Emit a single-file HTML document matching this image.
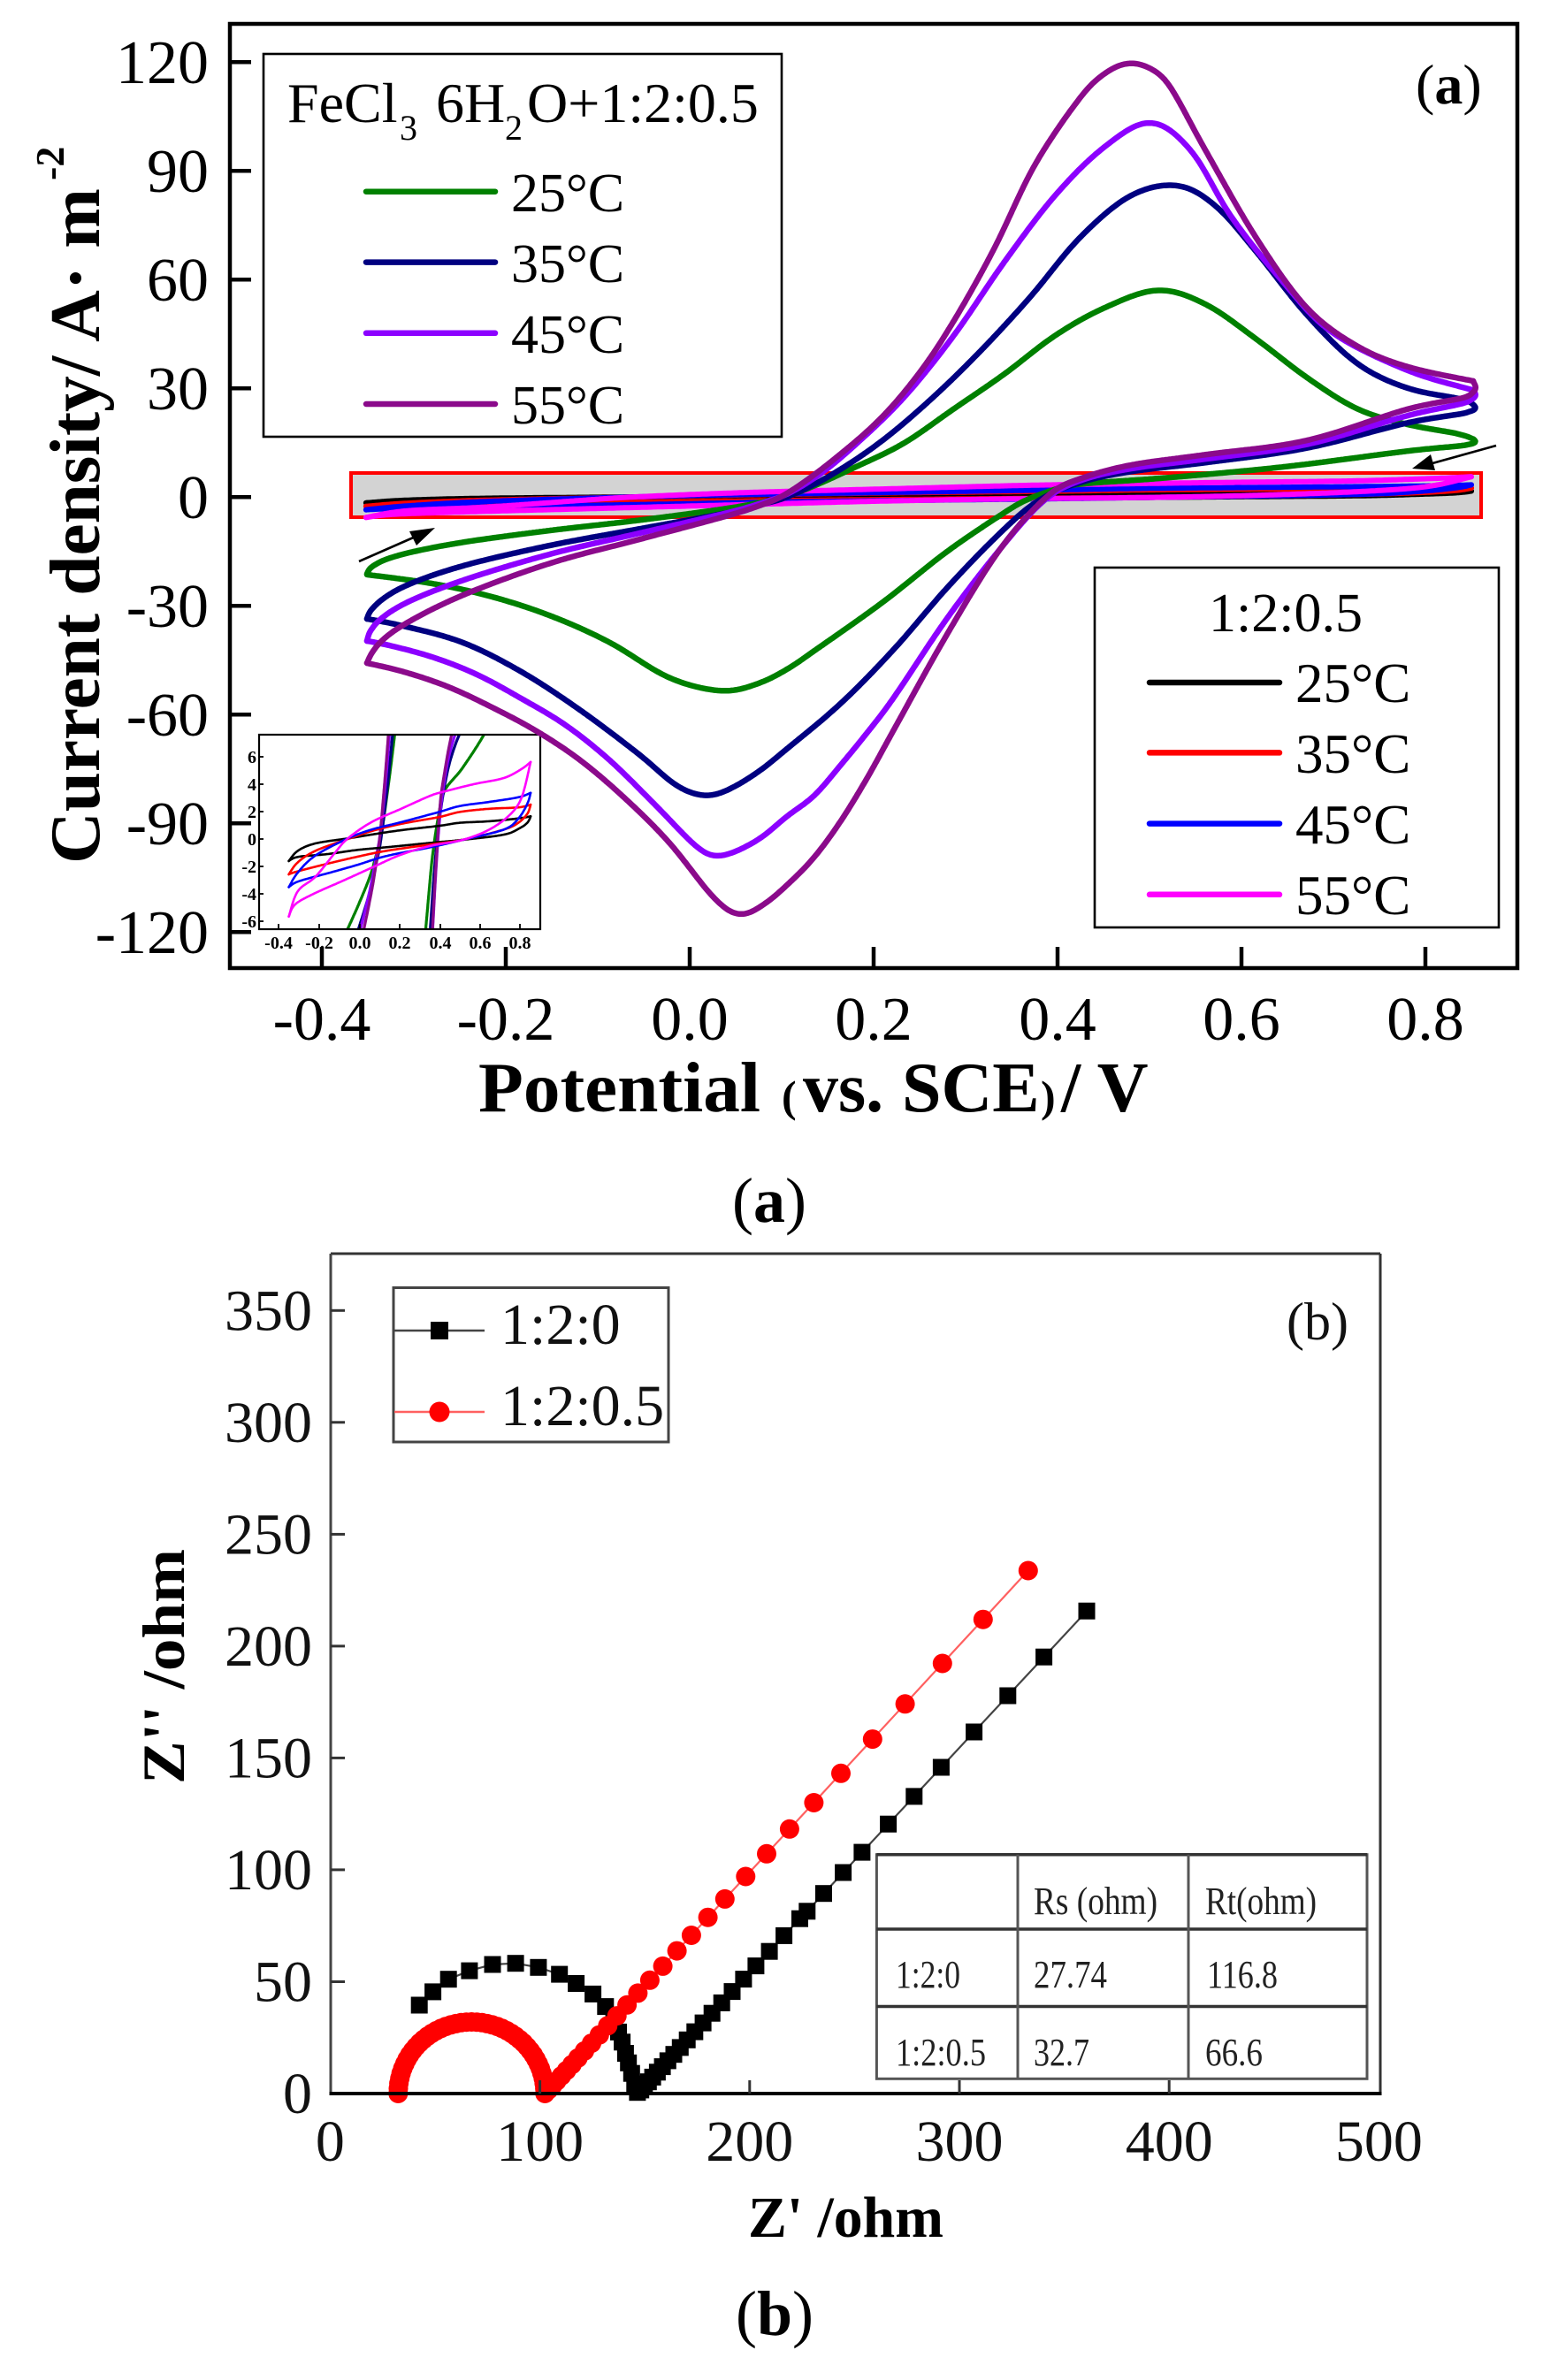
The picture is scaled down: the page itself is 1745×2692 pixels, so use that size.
<!DOCTYPE html>
<html><head><meta charset="utf-8">
<style>
html,body{margin:0;padding:0;background:#fff;}
svg{display:block;}
</style></head>
<body>
<svg id="s" width="1745" height="2692" viewBox="0 0 1745 2692" xmlns="http://www.w3.org/2000/svg" font-family="'Liberation Serif','Times New Roman',serif">
<defs>
<clipPath id="insetClip"><rect x="293" y="831" width="318" height="220"/></clipPath>
</defs>
<rect width="1745" height="2692" fill="#fff"/>

<!-- ============ PANEL A ============ -->
<rect x="397" y="535" width="1278" height="50" fill="#d3d3d3" stroke="#ff0000" stroke-width="4"/>
<g id="gSmall" fill="none" stroke-width="6" stroke-linecap="round" stroke-linejoin="round"></g>

<!-- inset -->
<rect x="293" y="831" width="318" height="220" fill="#fff" stroke="none"/>
<g id="gInset" clip-path="url(#insetClip)" fill="none" stroke-linecap="round" stroke-linejoin="round"></g>
<rect x="293" y="831" width="318" height="220" fill="none" stroke="#000" stroke-width="2.2"/>
<g stroke="#000" stroke-width="1.8">
<line x1="315" y1="1051" x2="315" y2="1045"/><line x1="361" y1="1051" x2="361" y2="1045"/><line x1="407" y1="1051" x2="407" y2="1045"/><line x1="452" y1="1051" x2="452" y2="1045"/><line x1="498" y1="1051" x2="498" y2="1045"/><line x1="543" y1="1051" x2="543" y2="1045"/><line x1="588" y1="1051" x2="588" y2="1045"/>
<line x1="293" y1="856" x2="298" y2="856"/><line x1="293" y1="887" x2="298" y2="887"/><line x1="293" y1="918" x2="298" y2="918"/><line x1="293" y1="949" x2="298" y2="949"/><line x1="293" y1="980" x2="298" y2="980"/><line x1="293" y1="1011" x2="298" y2="1011"/><line x1="293" y1="1042" x2="298" y2="1042"/>
</g>
<g font-size="20" font-weight="bold" text-anchor="end" fill="#000">
<text x="290" y="863">6</text><text x="290" y="894">4</text><text x="290" y="925">2</text><text x="290" y="956">0</text><text x="290" y="987">-2</text><text x="290" y="1018">-4</text><text x="290" y="1049">-6</text>
</g>
<g font-size="20" font-weight="bold" text-anchor="middle" fill="#000">
<text x="315" y="1073">-0.4</text><text x="361" y="1073">-0.2</text><text x="407" y="1073">0.0</text><text x="452" y="1073">0.2</text><text x="498" y="1073">0.4</text><text x="543" y="1073">0.6</text><text x="588" y="1073">0.8</text>
</g>

<g id="gMain" fill="none" stroke-width="6.5" stroke-linecap="round" stroke-linejoin="round"></g>

<!-- arrows -->
<line x1="406" y1="635" x2="472" y2="606" stroke="#000" stroke-width="2.6"/>
<polygon points="492,597 463,601 471,617" fill="#000"/>
<line x1="1692" y1="504" x2="1620" y2="524" stroke="#000" stroke-width="2.6"/>
<polygon points="1597,530 1618,514 1623,532" fill="#000"/>

<!-- frame -->
<rect x="260" y="27" width="1456" height="1068" fill="none" stroke="#000" stroke-width="4.5"/>
<g stroke="#000" stroke-width="4.5">
<line x1="260" y1="70.2" x2="284" y2="70.2"/><line x1="260" y1="193.2" x2="284" y2="193.2"/><line x1="260" y1="316.2" x2="284" y2="316.2"/><line x1="260" y1="439.2" x2="284" y2="439.2"/><line x1="260" y1="562.2" x2="284" y2="562.2"/><line x1="260" y1="685.2" x2="284" y2="685.2"/><line x1="260" y1="808.2" x2="284" y2="808.2"/><line x1="260" y1="931.2" x2="284" y2="931.2"/><line x1="260" y1="1054.2" x2="284" y2="1054.2"/>
<line x1="364" y1="1095" x2="364" y2="1071"/><line x1="572" y1="1095" x2="572" y2="1071"/><line x1="780" y1="1095" x2="780" y2="1071"/><line x1="988" y1="1095" x2="988" y2="1071"/><line x1="1196" y1="1095" x2="1196" y2="1071"/><line x1="1404" y1="1095" x2="1404" y2="1071"/><line x1="1612" y1="1095" x2="1612" y2="1071"/>
</g>
<g font-size="70" text-anchor="end" fill="#000">
<text x="236" y="94">120</text><text x="236" y="217">90</text><text x="236" y="340">60</text><text x="236" y="463">30</text><text x="236" y="586">0</text><text x="236" y="709">-30</text><text x="236" y="832">-60</text><text x="236" y="955">-90</text><text x="236" y="1078">-120</text>
</g>
<g font-size="70" text-anchor="middle" fill="#000">
<text x="364" y="1176">-0.4</text><text x="572" y="1176">-0.2</text><text x="780" y="1176">0.0</text><text x="988" y="1176">0.2</text><text x="1196" y="1176">0.4</text><text x="1404" y="1176">0.6</text><text x="1612" y="1176">0.8</text>
</g>

<!-- axis titles A -->
<text transform="translate(112,977) rotate(-90)" font-size="81" font-weight="bold" textLength="764" lengthAdjust="spacingAndGlyphs">Current density/ A· m</text>
<text transform="translate(72,204) rotate(-90)" font-size="46" font-weight="bold">-2</text>
<text y="1257" font-weight="bold" font-size="80" fill="#000"><tspan x="541" textLength="319" lengthAdjust="spacingAndGlyphs">Potential</tspan><tspan x="884" font-size="50">(</tspan><tspan x="908">vs.</tspan><tspan x="1020">SCE</tspan><tspan x="1177" font-size="50">)</tspan><tspan x="1200">/ V</tspan></text>

<!-- (a) label in plot -->
<text x="1601" y="117" font-size="64">(<tspan font-weight="bold">a</tspan>)</text>

<!-- legend 1 -->
<rect x="298" y="61" width="586" height="433" fill="#fff" stroke="#000" stroke-width="2.6"/>
<g font-size="64" fill="#000">
<text x="325" y="138">FeCl</text><text x="452" y="158" font-size="40">3</text><text x="493" y="138">6H</text><text x="571" y="158" font-size="40">2</text><text x="596" y="138">O+1:2:0.5</text>
</g>
<g stroke-width="6.5" stroke-linecap="round">
<line x1="414" y1="216.7" x2="560" y2="216.7" stroke="#008000"/>
<line x1="414" y1="296.6" x2="560" y2="296.6" stroke="#000080"/>
<line x1="414" y1="376.8" x2="560" y2="376.8" stroke="#8c00ff"/>
<line x1="414" y1="457" x2="560" y2="457" stroke="#8b0a8b"/>
</g>
<g font-size="62" fill="#000">
<text x="578" y="239">25°C</text><text x="578" y="319">35°C</text><text x="578" y="399">45°C</text><text x="578" y="479">55°C</text>
</g>

<!-- legend 2 -->
<rect x="1238" y="642" width="457" height="407" fill="#fff" stroke="#000" stroke-width="2.6"/>
<text x="1367" y="714" font-size="62">1:2:0.5</text>
<g stroke-width="6.5" stroke-linecap="round">
<line x1="1300" y1="772" x2="1447" y2="772" stroke="#000"/>
<line x1="1300" y1="851.4" x2="1447" y2="851.4" stroke="#ff0000"/>
<line x1="1300" y1="931.6" x2="1447" y2="931.6" stroke="#0000ff"/>
<line x1="1300" y1="1011.8" x2="1447" y2="1011.8" stroke="#ff00ff"/>
</g>
<g font-size="63" fill="#000">
<text x="1465" y="794">25°C</text><text x="1465" y="874">35°C</text><text x="1465" y="954">45°C</text><text x="1465" y="1034">55°C</text>
</g>

<!-- caption a -->
<text x="870" y="1382" text-anchor="middle" font-size="72">(<tspan font-weight="bold">a</tspan>)</text>

<!-- ============ PANEL B ============ -->
<g id="gEIS"></g>

<!-- table -->
<rect x="991.4" y="2097.7" width="554.6" height="253.6" fill="#fff" stroke="#555" stroke-width="3"/>
<line x1="991.4" y1="2097.7" x2="1546" y2="2097.7" stroke="#333" stroke-width="3.5"/>
<line x1="991.4" y1="2182" x2="1546" y2="2182" stroke="#333" stroke-width="3.5"/>
<line x1="991.4" y1="2269.5" x2="1546" y2="2269.5" stroke="#333" stroke-width="3.5"/>
<line x1="1151" y1="2097.7" x2="1151" y2="2351.3" stroke="#555" stroke-width="3"/>
<line x1="1344" y1="2097.7" x2="1344" y2="2351.3" stroke="#555" stroke-width="3"/>
<g font-size="44" fill="#222">
<text x="1169" y="2165" textLength="140" lengthAdjust="spacingAndGlyphs">Rs (ohm)</text>
<text x="1363" y="2165" textLength="126" lengthAdjust="spacingAndGlyphs">Rt(ohm)</text>
<text x="1013" y="2248" textLength="73" lengthAdjust="spacingAndGlyphs">1:2:0</text>
<text x="1169" y="2248" textLength="83" lengthAdjust="spacingAndGlyphs">27.74</text>
<text x="1365" y="2248" textLength="80" lengthAdjust="spacingAndGlyphs">116.8</text>
<text x="1013" y="2336" textLength="102" lengthAdjust="spacingAndGlyphs">1:2:0.5</text>
<text x="1169" y="2336" textLength="63" lengthAdjust="spacingAndGlyphs">32.7</text>
<text x="1363" y="2336" textLength="65" lengthAdjust="spacingAndGlyphs">66.6</text>
</g>

<!-- frame b -->
<line x1="374" y1="1418" x2="1561" y2="1418" stroke="#333" stroke-width="3"/>
<line x1="1561" y1="1418" x2="1561" y2="2368" stroke="#333" stroke-width="3"/>
<line x1="374" y1="1418" x2="374" y2="2368" stroke="#444" stroke-width="3"/>
<line x1="372.5" y1="2368" x2="1562.5" y2="2368" stroke="#000" stroke-width="4"/>
<g stroke="#333" stroke-width="3">
<line x1="374" y1="2241.5" x2="390" y2="2241.5"/><line x1="374" y1="2114.9" x2="390" y2="2114.9"/><line x1="374" y1="1988.4" x2="390" y2="1988.4"/><line x1="374" y1="1861.9" x2="390" y2="1861.9"/><line x1="374" y1="1735.4" x2="390" y2="1735.4"/><line x1="374" y1="1608.8" x2="390" y2="1608.8"/><line x1="374" y1="1482.3" x2="390" y2="1482.3"/>
<line x1="610.6" y1="2368" x2="610.6" y2="2353"/><line x1="847.8" y1="2368" x2="847.8" y2="2353"/><line x1="1085" y1="2368" x2="1085" y2="2353"/><line x1="1322.2" y1="2368" x2="1322.2" y2="2353"/>
</g>
<g font-size="66" text-anchor="end" fill="#111">
<text x="353" y="2390">0</text><text x="353" y="2263.5">50</text><text x="353" y="2137">100</text><text x="353" y="2010.4">150</text><text x="353" y="1884">200</text><text x="353" y="1757.4">250</text><text x="353" y="1631">300</text><text x="353" y="1504.3">350</text>
</g>
<g font-size="66" text-anchor="middle" fill="#111">
<text x="373.4" y="2444">0</text><text x="610.6" y="2444">100</text><text x="847.8" y="2444">200</text><text x="1085" y="2444">300</text><text x="1322.2" y="2444">400</text><text x="1559.4" y="2444">500</text>
</g>

<!-- legend b -->
<rect x="445" y="1456.5" width="311" height="174.5" fill="#fff" stroke="#444" stroke-width="3"/>
<line x1="446" y1="1505" x2="548" y2="1505" stroke="#444" stroke-width="2.5"/>
<rect x="487" y="1495" width="20" height="20" fill="#000"/>
<line x1="446" y1="1597" x2="548" y2="1597" stroke="#ff6060" stroke-width="2.5"/>
<circle cx="497" cy="1597" r="11.5" fill="#ff0000"/>
<text x="566" y="1520" font-size="66" fill="#111">1:2:0</text>
<text x="566" y="1612" font-size="66" fill="#111">1:2:0.5</text>

<text x="1455" y="1515" font-size="60" fill="#111">(b)</text>

<!-- axis titles b -->
<text transform="translate(208,2018) rotate(-90)" font-size="68" font-weight="bold" textLength="266" lengthAdjust="spacingAndGlyphs">Z'' /ohm</text>
<text x="846" y="2530" font-size="66" font-weight="bold" textLength="221" lengthAdjust="spacingAndGlyphs">Z' /ohm</text>

<text x="876" y="2641" text-anchor="middle" font-size="72">(<tspan font-weight="bold">b</tspan>)</text>
</svg>

<script>
(function(){
const NS='http://www.w3.org/2000/svg';
function el(tag,attrs,parent){const e=document.createElementNS(NS,tag);for(const k in attrs)e.setAttribute(k,attrs[k]);parent.appendChild(e);return e;}
function crSample(pts,m){const n=pts.length,out=[pts[0].slice()];
 for(let i=0;i<n-1;i++){const p0=pts[Math.max(i-1,0)],p1=pts[i],p2=pts[i+1],p3=pts[Math.min(i+2,n-1)];
  const c1=[p1[0]+(p2[0]-p0[0])/6,p1[1]+(p2[1]-p0[1])/6],c2=[p2[0]-(p3[0]-p1[0])/6,p2[1]-(p3[1]-p1[1])/6];
  for(let j=1;j<=m;j++){const t=j/m,u=1-t;
   out.push([u*u*u*p1[0]+3*u*u*t*c1[0]+3*u*t*t*c2[0]+t*t*t*p2[0],u*u*u*p1[1]+3*u*u*t*c1[1]+3*u*t*t*c2[1]+t*t*t*p2[1]]);}}
 return out;}
function resample(pts,s){const r=[pts[0].slice()];let carry=0;
 for(let i=0;i<pts.length-1;i++){const x0=pts[i][0],y0=pts[i][1],x1=pts[i+1][0],y1=pts[i+1][1];
  const L=Math.hypot(x1-x0,y1-y0);if(L===0)continue;let t=s-carry;
  while(t<=L){r.push([x0+(x1-x0)*t/L,y0+(y1-y0)*t/L]);t+=s;}
  carry=L-(t-s);}
 r.push(pts[pts.length-1].slice());return r;}
function smooth(p,k){const n=p.length,o=[];
 for(let i=0;i<n;i++){const w=Math.min(k,i,n-1-i);let sx=0,sy=0,sw=0;
  for(let j=i-w;j<=i+w;j++){const wt=w+1-Math.abs(j-i);sx+=p[j][0]*wt;sy+=p[j][1]*wt;sw+=wt;}
  o.push([sx/sw,sy/sw]);}
 return o;}
function pathStr(pts,s,k){const p=smooth(resample(crSample(pts,16),s),k);return p.map(q=>q[0].toFixed(1)+','+q[1].toFixed(1)).join(' ');}
const mx=v=>780+1040*v, my=i=>562.2-4.1*i;
const ix=v=>406.7+227.5*v, iy=i=>949-15.55*i;

const G_an=[[-0.351,-21.2],[-0.343,-18.6],[-0.311,-15.7],[-0.247,-12.5],[-0.151,-9.2],[-0.055,-6.4],[0.042,-3.1],[0.08,-1.3],[0.106,0.2],[0.14,3.6],[0.177,7.9],[0.232,14.7],[0.287,24.3],[0.342,33.9],[0.397,44.5],[0.451,52.2],[0.509,57.1],[0.561,53.2],[0.616,43.6],[0.671,33],[0.726,24.3],[0.781,20],[0.835,17.5],[0.852,16]];
const G_cat=[[0.852,16],[0.85,14.5],[0.781,12.7],[0.645,8.3],[0.513,5.2],[0.425,3.6],[0.396,2],[0.366,-0.8],[0.344,-4],[0.28,-15],[0.21,-29],[0.135,-42.5],[0.106,-47.5],[0.074,-51.5],[0.035,-53.5],[-0.022,-49.9],[-0.087,-40.1],[-0.151,-32.8],[-0.215,-27.5],[-0.279,-23.9],[-0.351,-21.4]];
const N_an=[[-0.351,-33.6],[-0.343,-30],[-0.311,-24.7],[-0.247,-19],[-0.151,-13.3],[-0.055,-8.8],[0.042,-4.3],[0.08,-1.9],[0.106,0],[0.15,5.5],[0.205,14.7],[0.259,26.2],[0.314,39.7],[0.37,55.1],[0.424,71.5],[0.479,83.1],[0.53,86],[0.572,80.3],[0.616,67.7],[0.671,50.3],[0.726,36.8],[0.781,30],[0.84,27],[0.852,25.5]];
const N_cat=[[0.852,25.5],[0.85,23.5],[0.781,20.5],[0.671,13.5],[0.561,9.5],[0.479,7],[0.424,4],[0.379,-1],[0.338,-9.8],[0.28,-25],[0.222,-42],[0.164,-57],[0.106,-69.4],[0.074,-75.9],[0.04,-81],[0.015,-82.4],[-0.015,-79.5],[-0.055,-71],[-0.119,-58.8],[-0.183,-48.2],[-0.247,-40.1],[-0.311,-35.6],[-0.351,-33.6]];
const V_an=[[-0.351,-39.7],[-0.343,-35.2],[-0.311,-29.5],[-0.247,-23],[-0.151,-15.7],[-0.055,-10],[0.042,-4.3],[0.08,-1.5],[0.106,0.8],[0.14,6],[0.177,13.7],[0.232,27.2],[0.287,44.5],[0.342,64.8],[0.397,83.1],[0.451,96.6],[0.501,103.4],[0.545,95.6],[0.589,77.3],[0.643,60],[0.698,45.5],[0.781,34.9],[0.852,29.5]];
const V_cat=[[0.852,29.5],[0.85,26.5],[0.781,22.5],[0.671,14.5],[0.561,10.5],[0.479,7.8],[0.424,4.5],[0.385,-1],[0.338,-14.2],[0.28,-33.4],[0.222,-55.3],[0.193,-65],[0.164,-74],[0.135,-82.5],[0.106,-88],[0.074,-94.6],[0.035,-99],[0.01,-97],[-0.038,-84.8],[-0.087,-72.6],[-0.135,-62.9],[-0.183,-55.6],[-0.231,-49],[-0.279,-44.2],[-0.327,-40.9],[-0.351,-39.7]];
const P_an=[[-0.351,-45.8],[-0.34,-40.9],[-0.311,-35.2],[-0.247,-27.1],[-0.151,-18.2],[-0.055,-11.7],[0.042,-5.1],[0.08,-2],[0.106,1],[0.15,9],[0.205,21],[0.249,34],[0.287,48.5],[0.331,68.5],[0.375,91.5],[0.424,110],[0.452,117],[0.478,119.8],[0.503,118],[0.523,113],[0.561,95.6],[0.616,71.5],[0.671,52.2],[0.726,41.6],[0.781,35.9],[0.852,32]];
const P_cat=[[0.852,32],[0.85,28],[0.781,24.3],[0.671,15.6],[0.561,11.7],[0.479,8.8],[0.424,5],[0.39,0.5],[0.338,-14.2],[0.28,-37.8],[0.222,-64.2],[0.193,-77.5],[0.164,-89.5],[0.135,-99.5],[0.106,-107],[0.08,-112.5],[0.054,-115.3],[0.026,-110.5],[-0.022,-95.4],[-0.07,-83.2],[-0.119,-72.6],[-0.167,-64.5],[-0.215,-58],[-0.263,-52.3],[-0.311,-48.2],[-0.351,-45.8]];

const K_up=[[-0.352,-1.6],[-0.308,-0.86],[-0.22,-0.32],[-0.059,0.04],[0.058,0.32],[0.205,0.64],[0.396,0.96],[0.498,1.18],[0.645,1.29],[0.791,1.5],[0.85,1.65]];
const K_lo=[[0.85,1.65],[0.835,1.18],[0.791,0.75],[0.718,0.32],[0.513,-0.06],[0.352,-0.28],[0.132,-0.6],[-0.015,-0.8],[-0.161,-1.1],[-0.308,-1.3],[-0.352,-1.6]];
const R_up=[[-0.352,-2.57],[-0.308,-1.7],[-0.22,-0.86],[-0.059,0],[0.058,0.57],[0.205,1.1],[0.396,1.6],[0.498,1.97],[0.645,2.2],[0.791,2.3],[0.85,2.5]];
const R_lo=[[0.85,2.5],[0.835,1.85],[0.791,1.2],[0.718,0.69],[0.513,-0.06],[0.352,-0.4],[0.132,-0.86],[-0.015,-1.3],[-0.161,-1.8],[-0.308,-2.35],[-0.352,-2.57]];
const B_up=[[-0.352,-3.5],[-0.308,-2.45],[-0.22,-1.2],[-0.059,0.04],[0.058,0.68],[0.205,1.22],[0.396,1.97],[0.498,2.4],[0.645,2.7],[0.791,3.04],[0.85,3.36]];
const B_lo=[[0.85,3.36],[0.835,2.6],[0.79,1.5],[0.718,0.69],[0.513,-0.06],[0.352,-0.6],[0.132,-1.24],[-0.015,-1.9],[-0.161,-2.5],[-0.308,-3.1],[-0.352,-3.5]];
const M_up=[[-0.352,-5.64],[-0.308,-3.8],[-0.22,-2.75],[-0.117,-0.9],[-0.059,0.04],[0.058,1.22],[0.205,2.19],[0.352,3.15],[0.425,3.47],[0.571,4],[0.718,4.44],[0.806,5.1],[0.85,5.6]];
const M_lo=[[0.85,5.6],[0.806,3.04],[0.747,1.76],[0.645,0.69],[0.513,-0.06],[0.352,-0.5],[0.205,-1.14],[0.058,-2.1],[-0.088,-3.07],[-0.235,-4.03],[-0.323,-4.78],[-0.352,-5.64]];

const small=[[K_up,K_lo,'#000000'],[R_up,R_lo,'#ff0000'],[B_up,B_lo,'#0000ff'],[M_up,M_lo,'#ff00ff']];
const big=[[G_an,G_cat,'#008000'],[N_an,N_cat,'#000080'],[V_an,V_cat,'#8c00ff'],[P_an,P_cat,'#8b0a8b']];

const gS=document.getElementById('gSmall'), gI=document.getElementById('gInset'), gM=document.getElementById('gMain');
function draw(g,data,fx,fy,sw,s,k){data.forEach(d=>{[d[0],d[1]].forEach(arr=>{
  el('polyline',{points:pathStr(arr.map(p=>[fx(p[0]),fy(p[1])]),s,k),stroke:d[2],'stroke-width':sw,fill:'none'},g);});});}
draw(gS,small,mx,my,6,2,5);
draw(gI,big,ix,iy,3.2,1.5,4);
draw(gI,small,ix,iy,2.6,1.5,3);
draw(gM,big,mx,my,6.5,2,8);

// EIS
const gE=document.getElementById('gEIS');
const ex=z=>373.4+2.372*z, ey=z=>2368-2.5305*z;
const blk=[[42.5,39.5],[49,45.5],[56.4,51.1],[66.4,54.9],[77.4,57.7],[88.4,58.2],[99.3,56.4],[109.3,53.3],[117.3,49.2],[125.3,44.5],[131.3,38.9],[135.2,32.4],[137.5,27.5],[139.2,23],[140.8,18],[142.2,13.7],[143.7,9],[145.2,4.3],[146.5,0.5]];
let z=146.5,d=1.6;
while(true){z+=d;d*=1.085;if(z>224)break;blk.push([z,1.01*(z-146.5)]);}
[227.4,235.3,244.6,253.6,266.1,278.4,291.3,307,323.1,340.3,360.7].forEach(v=>blk.push([v,1.007*(v-146.5)]));
const red=[];
for(let k=0;k<=44;k++){const t=Math.PI*(1-k/44);red.push([67.4+35*Math.cos(t),32*Math.sin(t)]);}
z=102.5;d=1.7;
while(true){z+=d;d*=1.09;if(z>168)break;red.push([z,1.015*(z-102.5)]);}
[172.2,180.1,188.2,198.1,208.1,219,230.6,243.5,258.6,274.1,291.9,311.3,332.8].forEach(v=>red.push([v,1.015*(v-102.5)]));

el('polyline',{points:blk.map(p=>ex(p[0]).toFixed(1)+','+ey(p[1]).toFixed(1)).join(' '),fill:'none',stroke:'#444','stroke-width':2.2},gE);
blk.forEach(p=>el('rect',{x:(ex(p[0])-9.5).toFixed(1),y:(ey(p[1])-9.5).toFixed(1),width:19,height:19,fill:'#000'},gE));
el('polyline',{points:red.map(p=>ex(p[0]).toFixed(1)+','+ey(p[1]).toFixed(1)).join(' '),fill:'none',stroke:'#ff6060','stroke-width':2.2},gE);
red.forEach(p=>el('circle',{cx:ex(p[0]).toFixed(1),cy:ey(p[1]).toFixed(1),r:11,fill:'#ff0000'},gE));
})();
</script>
</body></html>
